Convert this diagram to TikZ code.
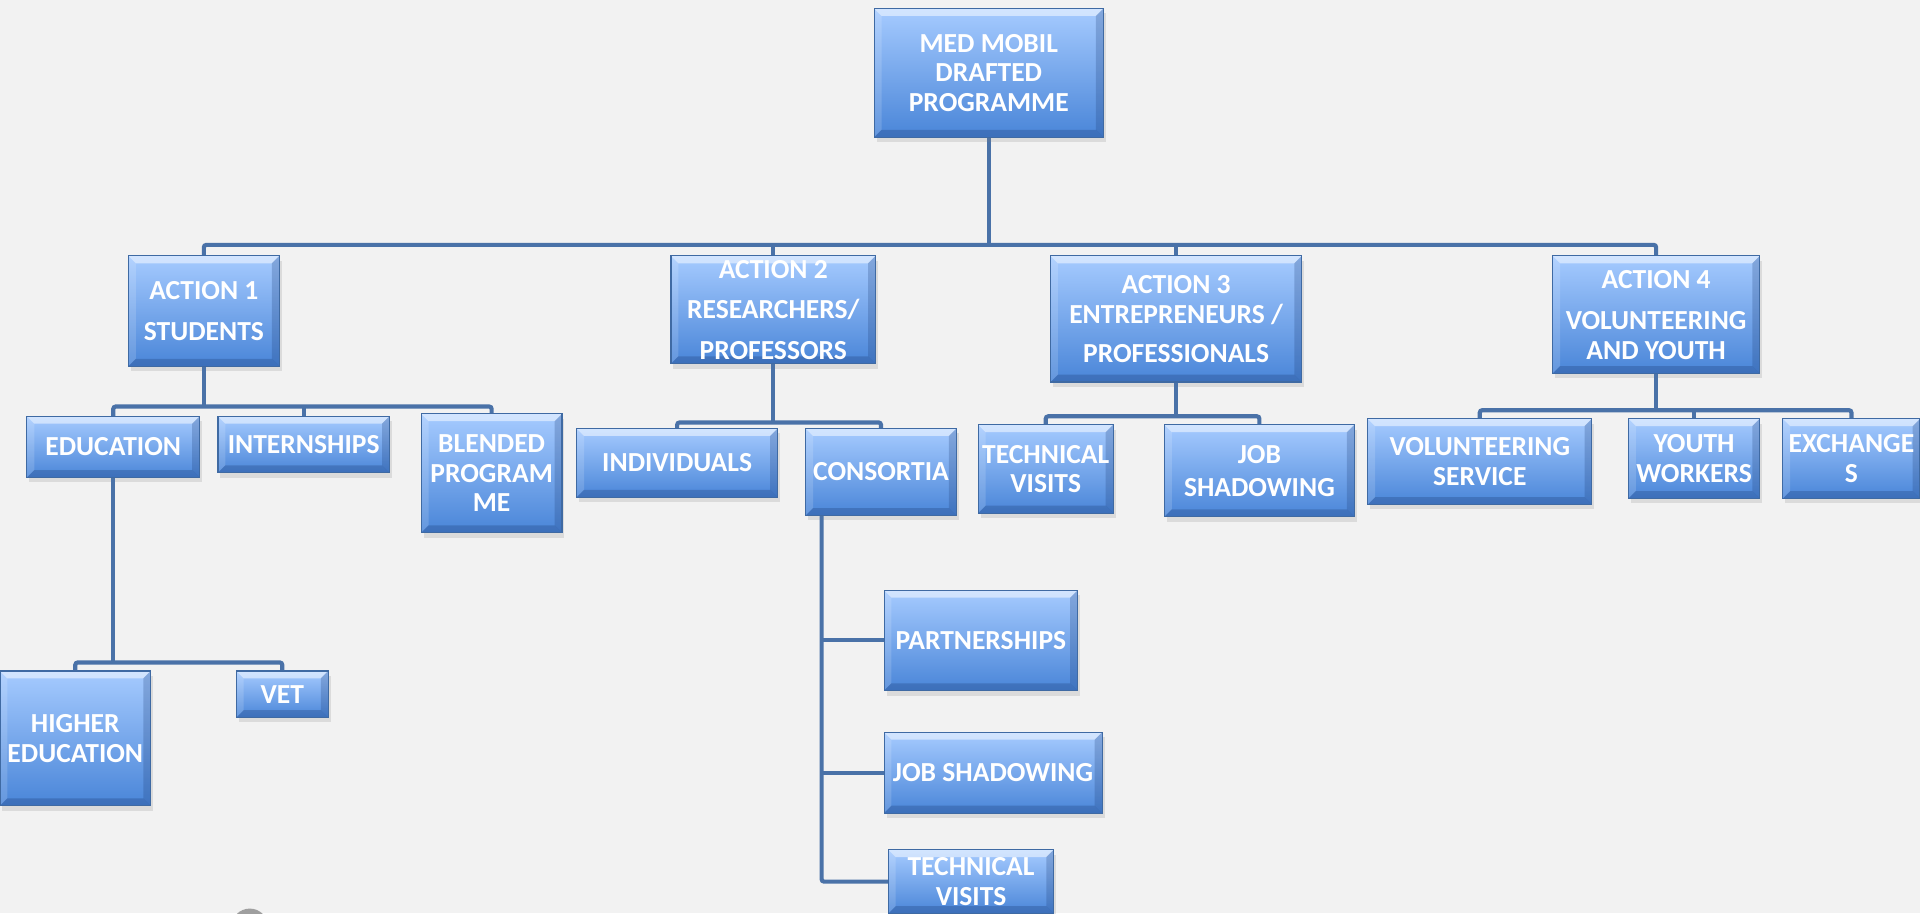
\documentclass[tikz,border=0pt]{standalone}
\usepackage{fontspec}
\setmainfont{Carlito}
\usetikzlibrary{shadows}
\definecolor{bg}{HTML}{F2F2F2}
\definecolor{boxtop}{HTML}{A6CBFF}
\definecolor{boxbot}{HTML}{4985D8}
\definecolor{boxborder}{HTML}{3F6AA3}
\definecolor{linecol}{HTML}{4A72A8}
\definecolor{bevdark}{HTML}{1F3F78}
\def\bv{6pt}
\tikzset{
  bevel/.style={path picture={
    \coordinate (pA) at (path picture bounding box.north west);
    \coordinate (pB) at (path picture bounding box.north east);
    \coordinate (pC) at (path picture bounding box.south east);
    \coordinate (pD) at (path picture bounding box.south west);
    \fill[white,opacity=0.5] (pA) -- (pB) -- ([shift={(-\bv,-\bv)}]pB) -- ([shift={(\bv,-\bv)}]pA) -- cycle;
    \fill[white,opacity=0.15] (pA) -- ([shift={(\bv,-\bv)}]pA) -- ([shift={(\bv,\bv)}]pD) -- (pD) -- cycle;
    \fill[bevdark,opacity=0.25] (pB) -- (pC) -- ([shift={(-\bv,\bv)}]pC) -- ([shift={(-\bv,-\bv)}]pB) -- cycle;
    \fill[bevdark,opacity=0.3] (pD) -- (pC) -- ([shift={(-\bv,\bv)}]pC) -- ([shift={(\bv,\bv)}]pD) -- cycle;
  }},
  bx/.style={draw=boxborder,line width=0.9pt,top color=boxtop,bottom color=boxbot,
    text=white,font=\bfseries\fontsize{22.5}{24}\selectfont,align=center,inner sep=0pt,
    drop shadow={opacity=0.2,shadow xshift=2pt,shadow yshift=-4pt},bevel},
  conn/.style={draw=linecol,line width=3.4pt,rounded corners=2pt},
}
\begin{document}
\begin{tikzpicture}[x=1pt,y=-1pt]
\useasboundingbox (0,0) rectangle (1568,746);
\clip (0,0) rectangle (1568,746);
\fill[bg] (0,0) rectangle (1568,746);

% bus levels
\coordinate (bus0) at (0,200);
\coordinate (bus1) at (0,332);
\coordinate (bus2) at (0,345);
\coordinate (bus3) at (0,340);
\coordinate (bus4) at (0,335);
\coordinate (bus5) at (0,541);
\coordinate (cv) at (671,421);

% connectors of the first level (behind boxes)
\coordinate (medS) at (807.5,112);
\coordinate (a1N) at (166.5,209);
\coordinate (a2N) at (631.5,209);
\coordinate (a3N) at (960.5,209);
\coordinate (a4N) at (1352.5,209);
\draw[conn] (medS) -- (medS |- bus0);
\draw[conn] (a1N) -- (a1N |- bus0) -- (a4N |- bus0) -- (a4N);
\draw[conn] (a2N) -- (a2N |- bus0);
\draw[conn] (a3N) -- (a3N |- bus0);

% boxes
\node[bx,minimum width=187,minimum height=105] (med) at (807.5,59.5) {MED MOBIL\\DRAFTED\\PROGRAMME};
\node[bx,minimum width=123,minimum height=90] (a1) at (166.5,254) {ACTION 1\\[9pt]STUDENTS};
\node[bx,minimum width=167,minimum height=88] (a2) at (631.5,253) {ACTION 2\\[9pt]RESEARCHERS/\\[9pt]PROFESSORS};
\node[bx,minimum width=205,minimum height=103] (a3) at (960.5,260.5) {ACTION 3\\ENTREPRENEURS /\\[8pt]PROFESSIONALS};
\node[bx,minimum width=169,minimum height=96] (a4) at (1352.5,257) {ACTION 4\\[10pt]VOLUNTEERING\\AND YOUTH};

\node[bx,minimum width=141,minimum height=50] (edu) at (92.5,365) {EDUCATION};
\node[bx,minimum width=140,minimum height=46] (intern) at (248,363) {INTERNSHIPS};
\node[bx,minimum width=115,minimum height=97] (blend) at (401.5,386.5) {BLENDED\\PROGRAM\\ME};
\node[bx,minimum width=123,minimum height=110] (hed) at (61.5,603) {HIGHER\\EDUCATION};
\node[bx,minimum width=75,minimum height=38] (vet) at (230.5,567) {VET};

\node[bx,minimum width=164,minimum height=56] (indiv) at (553,378) {INDIVIDUALS};
\node[bx,minimum width=123,minimum height=71] (cons) at (719.5,385.5) {CONSORTIA};
\node[bx,minimum width=158,minimum height=82] (part) at (801,523) {PARTNERSHIPS};
\node[bx,minimum width=178,minimum height=66] (jobs2) at (811,631) {JOB SHADOWING};
\node[bx,minimum width=135,minimum height=52] (tv2) at (793,720) {TECHNICAL\\VISITS};

\node[bx,minimum width=110,minimum height=72] (tv3) at (854,383) {TECHNICAL\\VISITS};
\node[bx,minimum width=155,minimum height=75] (js3) at (1028.5,384.5) {JOB\\[3pt]SHADOWING};

\node[bx,minimum width=183,minimum height=70] (vs) at (1208.5,377) {VOLUNTEERING\\SERVICE};
\node[bx,minimum width=107,minimum height=65] (yw) at (1383.5,374.5) {YOUTH\\WORKERS};
\node[bx,minimum width=112,minimum height=65] (ex) at (1512,374.5) {EXCHANGE\\S};

% second level connectors
\draw[conn] (a1.south) -- (a1.south |- bus1);
\draw[conn] (edu.north) -- (edu.north |- bus1) -- (blend.north |- bus1) -- (blend.north);
\draw[conn] (intern.north) -- (intern.north |- bus1);

\draw[conn] (a2.south) -- (a2.south |- bus2);
\draw[conn] (indiv.north) -- (indiv.north |- bus2) -- (cons.north |- bus2) -- (cons.north);

\draw[conn] (a3.south) -- (a3.south |- bus3);
\draw[conn] (tv3.north) -- (tv3.north |- bus3) -- (js3.north |- bus3) -- (js3.north);

\draw[conn] (a4.south) -- (a4.south |- bus4);
\draw[conn] (vs.north) -- (vs.north |- bus4) -- (ex.north |- bus4) -- (ex.north);
\draw[conn] (yw.north) -- (yw.north |- bus4);

\draw[conn] (edu.south) -- (edu.south |- bus5);
\draw[conn] (hed.north) -- (hed.north |- bus5) -- (vet.north |- bus5) -- (vet.north);

\draw[conn] (cv) |- (tv2.west);
\draw[conn] (cv |- part.west) -- (part.west);
\draw[conn] (cv |- jobs2.west) -- (jobs2.west);

% partial grey disc at the bottom edge
\fill[gray!75] (204,757) circle (15);
\end{tikzpicture}
\end{document}
